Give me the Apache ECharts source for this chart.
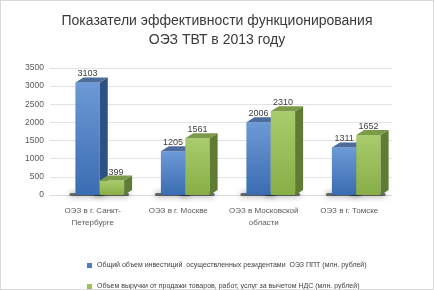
<!DOCTYPE html>
<html><head><meta charset="utf-8">
<script src="https://cdn.jsdelivr.net/npm/echarts@6/dist/echarts.min.js"></script>
<style>html,body{margin:0;padding:0;background:#fff}#c{width:432px;height:288px;border:1px solid #d9d9d9}</style>
</head><body><div id="c"></div>
<script>
var categories = ['ОЭЗ в г. Санкт-\nПетербурге', 'ОЭЗ в г. Москве', 'ОЭЗ в Московской\nобласти', 'ОЭЗ в г. Томске'];
var investments = [3103, 1205, 2006, 1311];
var revenue = [399, 1561, 2310, 1652];
var seriesNames = ['Общий объем инвестиций  осуществленных резидентами  ОЭЗ ППТ (млн. рублей)', 'Объем выручки от продажи товаров, работ, услуг за вычетом НДС (млн. рублей)'];
var yTicks = [0, 500, 1000, 1500, 2000, 2500, 3000, 3500];

var palettes = [
  {front: ['#6d9ad6', '#3a6cb2'], side: '#2e5185', top: '#4d6c9c', legend: '#4a7ec4'},
  {front: ['#a9cc6c', '#88ae47'], side: '#5f7b34', top: '#7b9a4a', legend: '#9bc25a'}
];

function makeRender(pal, sideIdx) {
  return function (params, api) {
    var cat = api.value(0), val = api.value(1);
    var base = api.coord([cat, 0]);
    var top = api.coord([cat, val]);
    var band = api.size([1, 0])[0];
    var w = band * 0.285;
    var off = 7;
    var x0 = sideIdx === 0 ? base[0] + off - w : base[0] + off;
    var x1 = x0 + w;
    var dx = 8, dy = -5;
    var yT = top[1], yB = base[1];
    return {
      type: 'group',
      children: [
        {type: 'rect', z2: 0, shape: {x: x0 - 6, y: yB - 2, width: w + dx + 3, height: 3, r: 1.5},
         style: {fill: 'rgba(25,25,25,0.6)', shadowBlur: 6, shadowColor: 'rgba(0,0,0,0.8)'}},
        {type: 'rect', z2: 10, shape: {x: x0, y: yT, width: w, height: yB - yT},
         style: {fill: new echarts.graphic.LinearGradient(0, 0, 0, 1, [{offset: 0, color: pal.front[0]}, {offset: 1, color: pal.front[1]}])}},
        {type: 'polygon', z2: 10, shape: {points: [[x1, yT], [x1 + dx, yT + dy], [x1 + dx, yB + dy], [x1, yB]]},
         style: {fill: pal.side}},
        {type: 'polygon', z2: 10, shape: {points: [[x0, yT], [x0 + dx, yT + dy], [x1 + dx, yT + dy], [x1, yT]]},
         style: {fill: pal.top}},
        {type: 'text', z2: 100, style: {text: String(val), x: (x0 + x1) / 2 + (sideIdx === 1 && val < 1000 ? 4 : 0), y: yT + dy + 1, align: 'center', verticalAlign: 'bottom',
          fill: '#404040', font: '9px "Liberation Sans", sans-serif'}}
      ]
    };
  };
}

var legendBase = {
  orient: 'horizontal', left: 81, itemWidth: 5, itemHeight: 5, icon: 'rect',
  textStyle: {fontFamily: 'Liberation Sans', fontSize: 7, color: '#404040'}
};

var chart = echarts.init(document.getElementById('c'), null, {renderer: 'canvas'});
chart.setOption({
  animation: false,
  title: {
    text: 'Показатели эффективности функционирования\nОЭЗ ТВТ в 2013 году',
    left: 'center', top: 6,
    textStyle: {fontFamily: 'Liberation Sans', fontSize: 14, fontWeight: 'normal', color: '#3a3a3a', lineHeight: 19}
  },
  legend: [
    Object.assign({}, legendBase, {top: 256, data: [seriesNames[0]]}),
    Object.assign({}, legendBase, {top: 277, data: [seriesNames[1]]})
  ],
  grid: {left: 49, right: 41, top: 67, bottom: 94},
  xAxis: {
    type: 'category', data: categories,
    axisLine: {lineStyle: {color: '#d9d9d9'}}, axisTick: {show: false},
    axisLabel: {color: '#595959', fontFamily: 'Liberation Sans', fontSize: 8, margin: 10, lineHeight: 12, interval: 0}
  },
  yAxis: {
    type: 'value', min: 0, max: 3500, interval: 500,
    axisLine: {show: false}, axisTick: {show: false},
    axisLabel: {color: '#595959', fontFamily: 'Liberation Sans', fontSize: 8.5, margin: 6, padding: [6, 0, 0, 0],
      formatter: function (v) { return yTicks.indexOf(v) >= 0 ? String(v) : ''; }},
    splitLine: {lineStyle: {color: '#e3e3e3'}}
  },
  series: [
    {name: seriesNames[0], type: 'custom', z: 2, renderItem: makeRender(palettes[0], 0),
     itemStyle: {color: palettes[0].legend}, encode: {x: 0, y: 1},
     data: investments.map(function (v, i) { return [i, v]; })},
    {name: seriesNames[1], type: 'custom', z: 2, renderItem: makeRender(palettes[1], 1),
     itemStyle: {color: palettes[1].legend}, encode: {x: 0, y: 1},
     data: revenue.map(function (v, i) { return [i, v]; })}
  ]
});
</script></body></html>
